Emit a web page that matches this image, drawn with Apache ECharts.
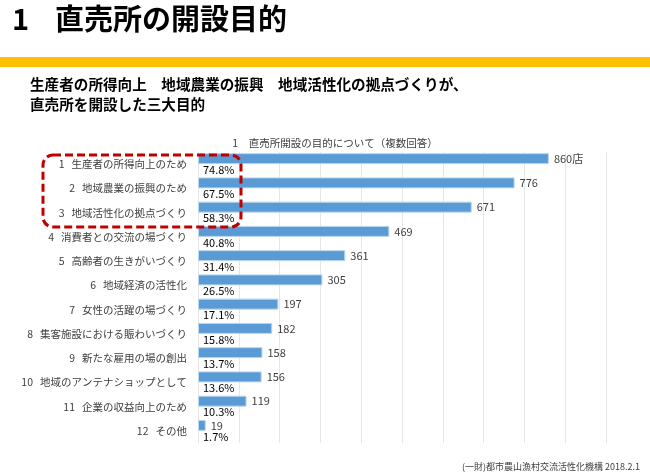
<!DOCTYPE html>
<html><head><meta charset="utf-8">
<script src="https://cdn.jsdelivr.net/npm/echarts@6/dist/echarts.min.js"></script>
<style>html,body{margin:0;padding:0;background:#fff}#c{width:650px;height:473px}</style>
</head><body><div id="c"></div>
<script>
var categories = [
  '1 生産者の所得向上のため',
  '2 地域農業の振興のため',
  '3 地域活性化の拠点づくり',
  '4 消費者との交流の場づくり',
  '5 高齢者の生きがいづくり',
  '6 地域経済の活性化',
  '7 女性の活躍の場づくり',
  '8 集客施設における賑わいづくり',
  '9 新たな雇用の場の創出',
  '10 地域のアンテナショップとして',
  '11 企業の収益向上のため',
  '12 その他'
];
var counts = [860, 776, 671, 469, 361, 305, 197, 182, 158, 156, 119, 19];
var percents = [74.8, 67.5, 58.3, 40.8, 31.4, 26.5, 17.1, 15.8, 13.7, 13.6, 10.3, 1.7];
var xTicks = [0, 100, 200, 300, 400, 500, 600, 700, 800, 900, 1000];

var FONT = '"Noto Sans CJK JP", "Noto Sans", sans-serif';
var chart = echarts.init(document.getElementById('c'), null, {renderer: 'canvas'});
chart.setOption({
  animation: false,
  textStyle: {fontFamily: FONT},
  title: {
    text: '1　直売所開設の目的について（複数回答）',
    left: 330, top: 133, textAlign: 'center',
    textStyle: {fontSize: 10.5, fontWeight: 'normal', color: '#404040', fontFamily: FONT}
  },
  grid: {left: 198, right: 44, top: 152, bottom: 30, containLabel: false},
  xAxis: {
    type: 'value', min: xTicks[0], max: xTicks[xTicks.length - 1], interval: 100,
    axisLabel: {show: false}, axisLine: {show: false}, axisTick: {show: false},
    splitLine: {show: true, lineStyle: {color: '#e6e6e6', width: 1}}
  },
  yAxis: {
    type: 'category', data: categories, inverse: true,
    axisLine: {show: false}, axisTick: {show: false},
    axisLabel: {
      margin: 11, color: '#404040', fontFamily: FONT,
      formatter: function (v) {
        var i = v.indexOf(' ');
        return '{n|' + v.slice(0, i) + '}{t|' + v.slice(i + 1) + '}';
      },
      rich: {
        n: {fontSize: 10.5, color: '#404040', fontFamily: FONT, padding: [0, 7, 0, 0]},
        t: {fontSize: 10.5, color: '#404040', fontFamily: FONT}
      }
    }
  },
  series: [
    {
      type: 'bar', data: counts, barWidth: 11, barGap: '0%',
      itemStyle: {color: '#5B9BD5', borderColor: '#BDD7EE', borderWidth: 1},
      label: {
        show: true, position: 'right', distance: 5, fontSize: 11, color: '#404040', fontFamily: FONT,
        formatter: function (p) { return p.dataIndex === 0 ? p.value + '店' : String(p.value); }
      }
    },
    {
      type: 'bar', data: counts, barWidth: 11, barGap: '0%',
      itemStyle: {color: 'rgba(0,0,0,0)'},
      silent: true,
      label: {
        show: true, position: 'insideLeft', distance: 5, fontSize: 11, color: '#000', fontFamily: FONT,
        formatter: function (p) { return percents[p.dataIndex].toFixed(1) + '%'; }
      }
    }
  ],
  graphic: [
    {type: 'text', left: 12, top: 4, style: {text: '1', font: 'bold 29px ' + FONT, fill: '#000', shadowColor: 'rgba(0,0,0,0.35)', shadowBlur: 2, shadowOffsetX: 2, shadowOffsetY: 2}},
    {type: 'text', left: 55, top: 4, style: {text: '直売所の開設目的', font: 'bold 29px ' + FONT, fill: '#000', shadowColor: 'rgba(0,0,0,0.35)', shadowBlur: 2, shadowOffsetX: 2, shadowOffsetY: 2}},
    {type: 'rect', shape: {x: 0, y: 57, width: 650, height: 10}, style: {fill: '#FFC000'}},
    {type: 'text', left: 30, top: 74, style: {text: '生産者の所得向上　地域農業の振興　地域活性化の拠点づくりが、\n直売所を開設した三大目的', font: 'bold 14.6px ' + FONT, fill: '#000', lineHeight: 20}},
    {type: 'rect', shape: {x: 43, y: 155, width: 198, height: 72, r: 10}, style: {fill: null, stroke: '#C00000', lineWidth: 3, lineDash: [8, 4]}, z: 100},
    {type: 'text', right: 10, top: 462, style: {text: '(一財)都市農山漁村交流活性化機構 2018.2.1', font: '9px ' + FONT, fill: '#404040'}}
  ]
});
</script></body></html>
